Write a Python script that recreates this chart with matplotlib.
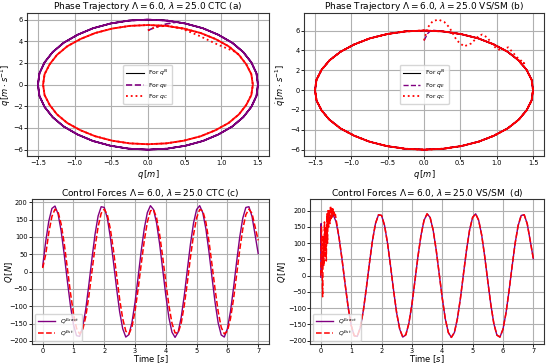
import numpy as np
import matplotlib
matplotlib.use("Agg")
import matplotlib.pyplot as plt

# ---- phase trajectory data ----
# exact ellipse, one cycle clockwise from the top
q_ex = [0, .26, .51, .75, .96, 1.15, 1.30, 1.41, 1.48, 1.5, 1.48, 1.41, 1.30, 1.15, .96, .75, .51, .26,
        0, -.26, -.51, -.75, -.96, -1.15, -1.30, -1.41, -1.48, -1.5, -1.48, -1.41, -1.30, -1.15, -.96,
        -.75, -.51, -.26, 0]
qd_ex = [6, 5.91, 5.64, 5.20, 4.60, 3.86, 3.0, 2.05, 1.04, 0, -1.04, -2.05, -3.0, -3.86, -4.60, -5.20,
         -5.64, -5.91, -6, -5.91, -5.64, -5.20, -4.60, -3.86, -3.0, -2.05, -1.04, 0, 1.04, 2.05, 3.0,
         3.86, 4.60, 5.20, 5.64, 5.91, 6]

# CTC: estimated start and the smaller controlled ellipse
qE_start = [0.0, 0.1, 0.25, 0.4]
qdE_start = [5.0, 5.3, 5.6, 5.78]
qC_start = [0.0, 0.1, 0.25, 0.45, 0.7, 0.95, 1.2]
qdC_start = [5.0, 5.3, 5.45, 5.2, 4.5, 3.7, 3.0]
q_c = [1.24, 1.34, 1.41, 1.43, 1.41, 1.34, 1.24, 1.10, .92, .72, .49, .25, 0, -.25, -.49, -.72, -.92,
       -1.10, -1.24, -1.34, -1.41, -1.43, -1.41, -1.34, -1.24, -1.10, -.92, -.72, -.49, -.25, 0, .25,
       .49, .72, .92, 1.10, 1.24]
qd_c = [2.75, 1.88, .96, 0, -.96, -1.88, -2.75, -3.54, -4.21, -4.76, -5.17, -5.42, -5.5, -5.42, -5.17,
        -4.76, -4.21, -3.54, -2.75, -1.88, -.96, 0, .96, 1.88, 2.75, 3.54, 4.21, 4.76, 5.17, 5.42, 5.5,
        5.42, 5.17, 4.76, 4.21, 3.54, 2.75]

# VS/SM: start transients, then on the exact ellipse
qE_vs = [0.0, 0.05, 0.1]
qdE_vs = [5.0, 5.7, 6.05]
qC_vs = [0.0, 0.05, 0.12, 0.2, 0.28, 0.35, 0.45, 0.55, 0.65, 0.75, 0.8, 0.87, 0.94, 1.0, 1.07, 1.12,
         1.16, 1.22, 1.28, 1.33, 1.38]
qdC_vs = [5.0, 6.3, 6.95, 7.1, 6.85, 6.3, 5.0, 4.4, 4.7, 5.45, 5.6, 5.3, 4.6, 4.15, 4.0, 4.25, 4.3,
          3.8, 3.3, 3.0, 2.7]

# ---- control force data ----
t = np.round(np.arange(71) * 0.1, 1)
Q_exact = [15, 88, 146, 182, 189, 166, 117, 49, -26, -97, -153, -185, -187, -160, -108, -38, 37, 107,
           160, 187, 185, 154, 98, 27, -48, -116, -165, -189, -182, -147, -89, -16, 59, 124, 170, 190,
           179, 140, 79, 5, -69, -133, -175, -190, -175, -132, -69, 6, 79, 140, 179, 190, 170, 124, 58,
           -17, -89, -148, -183, -189, -165, -115, -47, 28, 99, 154, 185, 187, 159, 106, 52]
Q_est = [10, 50, 113, 159, 180, 172, 137, 81, 11, -60, -121, -164, -180, -168, -130, -71, 0, 70, 129,
         168, 180, 164, 122, 61, -10, -80, -136, -172, -180, -160, -114, -51, 21, 89, 143, 175, 179,
         155, 106, 41, -31, -98, -149, -177, -177, -149, -97, -31, 41, 106, 155, 179, 175, 143, 88, 20,
         -51, -115, -161, -180, -172, -136, -79, -9, 62, 123, 164, 180, 168, 129, 90]

# VS/SM start of the force curves
t_ex_vs = [0.0, 0.01, 0.03, 0.06]
Q_ex_vs = [-5, 160, 20, 45]
t_est_vs = [0.0, 0.02, 0.04, 0.06, 0.08, 0.10, 0.12, 0.14, 0.16, 0.18, 0.20, 0.22, 0.24, 0.26, 0.28,
            0.30, 0.32, 0.34, 0.36, 0.38, 0.40, 0.42, 0.44, 0.46, 0.48, 0.50]
Q_est_vs = [0, 150, 40, -65, 120, 30, 165, 60, 150, 45, 190, 100, 200, 150, 205, 160, 215, 175, 210,
            180, 205, 185, 195, 180, 188, 175]

fig = plt.figure(figsize=(5.5, 3.64), dpi=100)
ax_a = fig.add_axes([0.049, 0.571, 0.440, 0.393])
ax_b = fig.add_axes([0.553, 0.571, 0.436, 0.393])
ax_c = fig.add_axes([0.058, 0.055, 0.431, 0.398])
ax_d = fig.add_axes([0.564, 0.055, 0.425, 0.398])

ncyc = 5
tsize = 6.5
lsize = 6.0
# later cycles run with shifted dashes/dots, so the rings read almost solid
dot_offsets = [0.0, 0.9, 1.8]
dash_offsets = [0.0, 2.0, 4.0]

# (a)
ax_a.plot(np.tile(q_ex, ncyc), np.tile(qd_ex, ncyc), color='black', lw=0.8, label='For $q^N$')
ax_a.plot(qE_start + q_ex[1:], qdE_start + qd_ex[1:], color='purple', ls='--', lw=1.2, label='For $q_E$')
for off in dash_offsets:
    ax_a.plot(q_ex, qd_ex, color='purple', ls=(off, (3.7, 1.6)), lw=1.2)
ax_a.plot(qC_start + q_c, qdC_start + qd_c, color='red', ls=':', lw=1.3, label='For $q_C$')
for off in dot_offsets:
    ax_a.plot(q_c, qd_c, color='red', ls=(off, (1, 1.65)), lw=1.3)
ax_a.set_title('Phase Trajectory $\\Lambda = 6.0$, $\\lambda = 25.0$ CTC (a)', fontsize=tsize, pad=2)

# (b)
ax_b.plot(np.tile(q_ex, ncyc), np.tile(qd_ex, ncyc), color='black', lw=0.8, label='For $q^N$')
ax_b.plot(qE_vs + q_ex[1:], qdE_vs + qd_ex[1:], color='purple', ls='--', lw=1.0, label='For $q_E$')
for off in dash_offsets:
    ax_b.plot(q_ex, qd_ex, color='purple', ls=(off, (3.7, 1.6)), lw=1.0)
ax_b.plot(qC_vs + q_ex[6:] + q_ex[1:], qdC_vs + qd_ex[6:] + qd_ex[1:], color='red', ls=':', lw=1.3,
          label='For $q_C$')
for off in dot_offsets:
    ax_b.plot(q_ex, qd_ex, color='red', ls=(off, (1, 1.65)), lw=1.3)
ax_b.set_title('Phase Trajectory $\\Lambda = 6.0$, $\\lambda = 25.0$ VS/SM (b)', fontsize=tsize, pad=2)

for ax, yx in ((ax_a, -0.058), (ax_b, -0.067)):
    ax.set_xticks([-1.5, -1.0, -0.5, 0.0, 0.5, 1.0, 1.5])
    ax.set_xlabel('$q\\,[m]$', fontsize=lsize)
    ax.set_ylabel('$\\dot{q}\\,[m \\cdot s^{-1}]$', fontsize=lsize)
    ax.xaxis.set_label_coords(0.5, -0.085)
    ax.yaxis.set_label_coords(yx, 0.5)
    ax.legend(loc='center', fontsize=4.4, handlelength=2.8, borderpad=0.5, labelspacing=0.4)

# (c)
ax_c.plot(t, Q_exact, color='purple', lw=1.0, label='$Q^{Exact}$')
ax_c.plot(t, Q_est, color='red', ls='--', lw=1.1, label='$Q^{Est}$')
ax_c.set_title('Control Forces $\\Lambda = 6.0$, $\\lambda = 25.0$ CTC (c)', fontsize=tsize, pad=2)

# (d)
ax_d.plot(t_ex_vs + list(t[1:]), Q_ex_vs + Q_exact[1:], color='purple', lw=1.0, label='$Q^{Exact}$')
ax_d.plot(t_est_vs + list(t[6:]), Q_est_vs + Q_exact[6:], color='red', ls='--', lw=1.1, label='$Q^{Est}$')
ax_d.set_title('Control Forces $\\Lambda = 6.0$, $\\lambda = 25.0$ VS/SM  (d)', fontsize=tsize, pad=2)

for ax, yx in ((ax_c, -0.072), (ax_d, -0.094)):
    ax.set_xticks(range(8))
    ax.set_xlabel('Time $[s]$', fontsize=lsize)
    ax.set_ylabel('$Q\\,[N]$', fontsize=lsize)
    ax.xaxis.set_label_coords(0.5, -0.062)
    ax.yaxis.set_label_coords(yx, 0.5)
    ax.legend(loc='lower left', fontsize=4.4, handlelength=2.8, borderpad=0.5, labelspacing=0.4)

for ax in (ax_a, ax_b, ax_c, ax_d):
    ax.grid(True, color='#b0b0b0', lw=0.8)
    ax.tick_params(length=2, pad=1, labelsize=4.8, width=0.6)
    for s in ax.spines.values():
        s.set_linewidth(0.8)
        s.set_color('#333333')

fig.savefig('out.png', dpi=100)
